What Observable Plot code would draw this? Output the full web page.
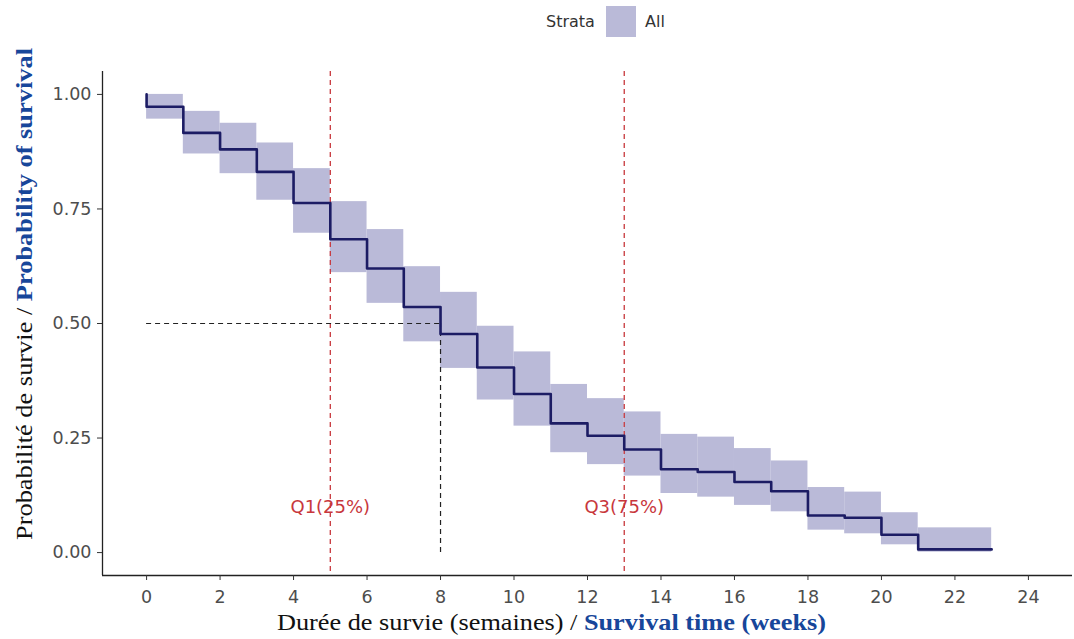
<!DOCTYPE html>
<html>
<head>
<meta charset="utf-8">
<script src="https://cdn.jsdelivr.net/npm/d3@7"></script>
<script src="https://cdn.jsdelivr.net/npm/@observablehq/plot@0.6"></script>
<style>
  html, body { margin: 0; padding: 0; background: #fff; }
  #legend { position: relative; height: 45px; width: 1074px; font-family: "DejaVu Sans", sans-serif; font-size: 16px; color: #333; }
  #legend .lab { position: absolute; top: 12px; }
  #legend .sw { position: absolute; left: 606px; top: 6px; width: 30px; height: 31px; background: #babad8; }
  #chart svg { display: block; }
</style>
</head>
<body>
<div id="legend">
  <span class="lab" style="left:546px">Strata</span>
  <span class="sw"></span>
  <span class="lab" style="left:645px">All</span>
</div>
<div id="chart"></div>
<script>
// Kaplan-Meier estimate (All strata)
const stepTimes = [0, 1, 2, 3, 4, 5, 6, 7, 8, 9, 10, 11, 12, 13, 14, 15, 16, 17, 18, 19, 20, 21];
const survival  = [0.973, 0.916, 0.880, 0.831, 0.763, 0.684, 0.620, 0.536, 0.477, 0.404, 0.346, 0.282, 0.255, 0.225, 0.182, 0.176, 0.154, 0.134, 0.081, 0.076, 0.039, 0.007];
const upperCI   = [1.000, 0.963, 0.937, 0.894, 0.838, 0.766, 0.705, 0.624, 0.568, 0.494, 0.438, 0.367, 0.336, 0.307, 0.258, 0.252, 0.227, 0.200, 0.142, 0.132, 0.087, 0.054];
const lowerCI   = [0.946, 0.870, 0.827, 0.769, 0.697, 0.611, 0.544, 0.460, 0.402, 0.333, 0.276, 0.218, 0.192, 0.167, 0.129, 0.121, 0.103, 0.089, 0.049, 0.041, 0.017, 0.001];
const startTime = 0, startSurv = 1.0, endTime = 23;

const quartileTimes  = [5, 13];
const quartileLabels = ["Q1(25%)", "Q3(75%)"];
const quartileLabelY = 0.1;
const medianTime = 8, medianSurv = 0.5;

const xTicks = [0, 2, 4, 6, 8, 10, 12, 14, 16, 18, 20, 22, 24];
const yTicks = [0, 0.25, 0.5, 0.75, 1];
const xDomain = [-1.2, 25.2];
const yDomain = [-0.05, 1.05];

// Derived tables
const bands = stepTimes.map((t, i) => ({
  x1: t, x2: i + 1 < stepTimes.length ? stepTimes[i + 1] : endTime,
  lo: lowerCI[i], hi: upperCI[i]
}));
const curve = [{t: startTime, s: startSurv}]
  .concat(stepTimes.map((t, i) => ({t, s: survival[i]})))
  .concat([{t: endTime, s: survival[survival.length - 1]}]);
const qLabels = quartileTimes.map((t, i) => ({t, label: quartileLabels[i]}));

const navy = "#1c1c64";
const red = "#c8373c";

const plot = Plot.plot({
  width: 1074,
  height: 594,
  marginLeft: 102,
  marginRight: 2,
  marginTop: 26,
  marginBottom: 64,
  style: {fontFamily: "'DejaVu Sans', sans-serif", fontSize: "17.5px", color: "#4d4d4d", background: "#fff"},
  x: {domain: xDomain, ticks: xTicks, label: null},
  y: {domain: yDomain, ticks: yTicks, label: null},
  marks: [
    Plot.rect(bands, {x1: "x1", x2: "x2", y1: "lo", y2: "hi", fill: "#babad8"}),
    Plot.ruleX(quartileTimes, {stroke: red, strokeWidth: 1.3, strokeDasharray: "5,4"}),
    Plot.ruleY([medianSurv], {x1: 0, x2: medianTime, stroke: "#222", strokeWidth: 1.2, strokeDasharray: "5,4"}),
    Plot.ruleX([medianTime], {y1: 0, y2: medianSurv, stroke: "#222", strokeWidth: 1.2, strokeDasharray: "5,4"}),
    Plot.line(curve, {x: "t", y: "s", curve: "step-after", stroke: navy, strokeWidth: 2.6, strokeLinecap: "round"}),
    Plot.text(qLabels, {x: "t", y: quartileLabelY, text: "label", fill: red, fontSize: 18}),
    Plot.ruleY([yDomain[0]], {stroke: "#222", strokeWidth: 1.3}),
    Plot.ruleX([xDomain[0]], {stroke: "#222", strokeWidth: 1.3}),
    Plot.axisX({ticks: xTicks, tickSize: 5, tickPadding: 10, stroke: "#333", fill: "#4d4d4d", label: null}),
    Plot.axisY({ticks: yTicks, tickSize: 5, tickPadding: 6, tickFormat: d3.format(".2f"), stroke: "#333", fill: "#4d4d4d", label: null})
  ]
});
document.getElementById("chart").appendChild(plot);

// Axis titles with bilingual styling
const svg = d3.select(plot);
const serif = "'Liberation Serif', 'DejaVu Serif', serif";
const blue = "#17469a";
const xt = svg.append("text")
  .attr("x", 277).attr("y", 585).attr("text-anchor", "start")
  .attr("textLength", 549).attr("lengthAdjust", "spacingAndGlyphs")
  .attr("font-family", serif).attr("font-size", 24).attr("fill", "#111");
xt.append("tspan").text("Durée de survie (semaines) / ");
xt.append("tspan").attr("font-weight", "bold").attr("fill", blue).text("Survival time (weeks)");

const yt = svg.append("text")
  .attr("transform", "translate(32,495) rotate(-90)").attr("text-anchor", "start")
  .attr("textLength", 492).attr("lengthAdjust", "spacingAndGlyphs")
  .attr("font-family", serif).attr("font-size", 24).attr("fill", "#111");
yt.append("tspan").text("Probabilité de survie / ");
yt.append("tspan").attr("font-weight", "bold").attr("fill", blue).text("Probability of survival");
</script>
</body>
</html>
